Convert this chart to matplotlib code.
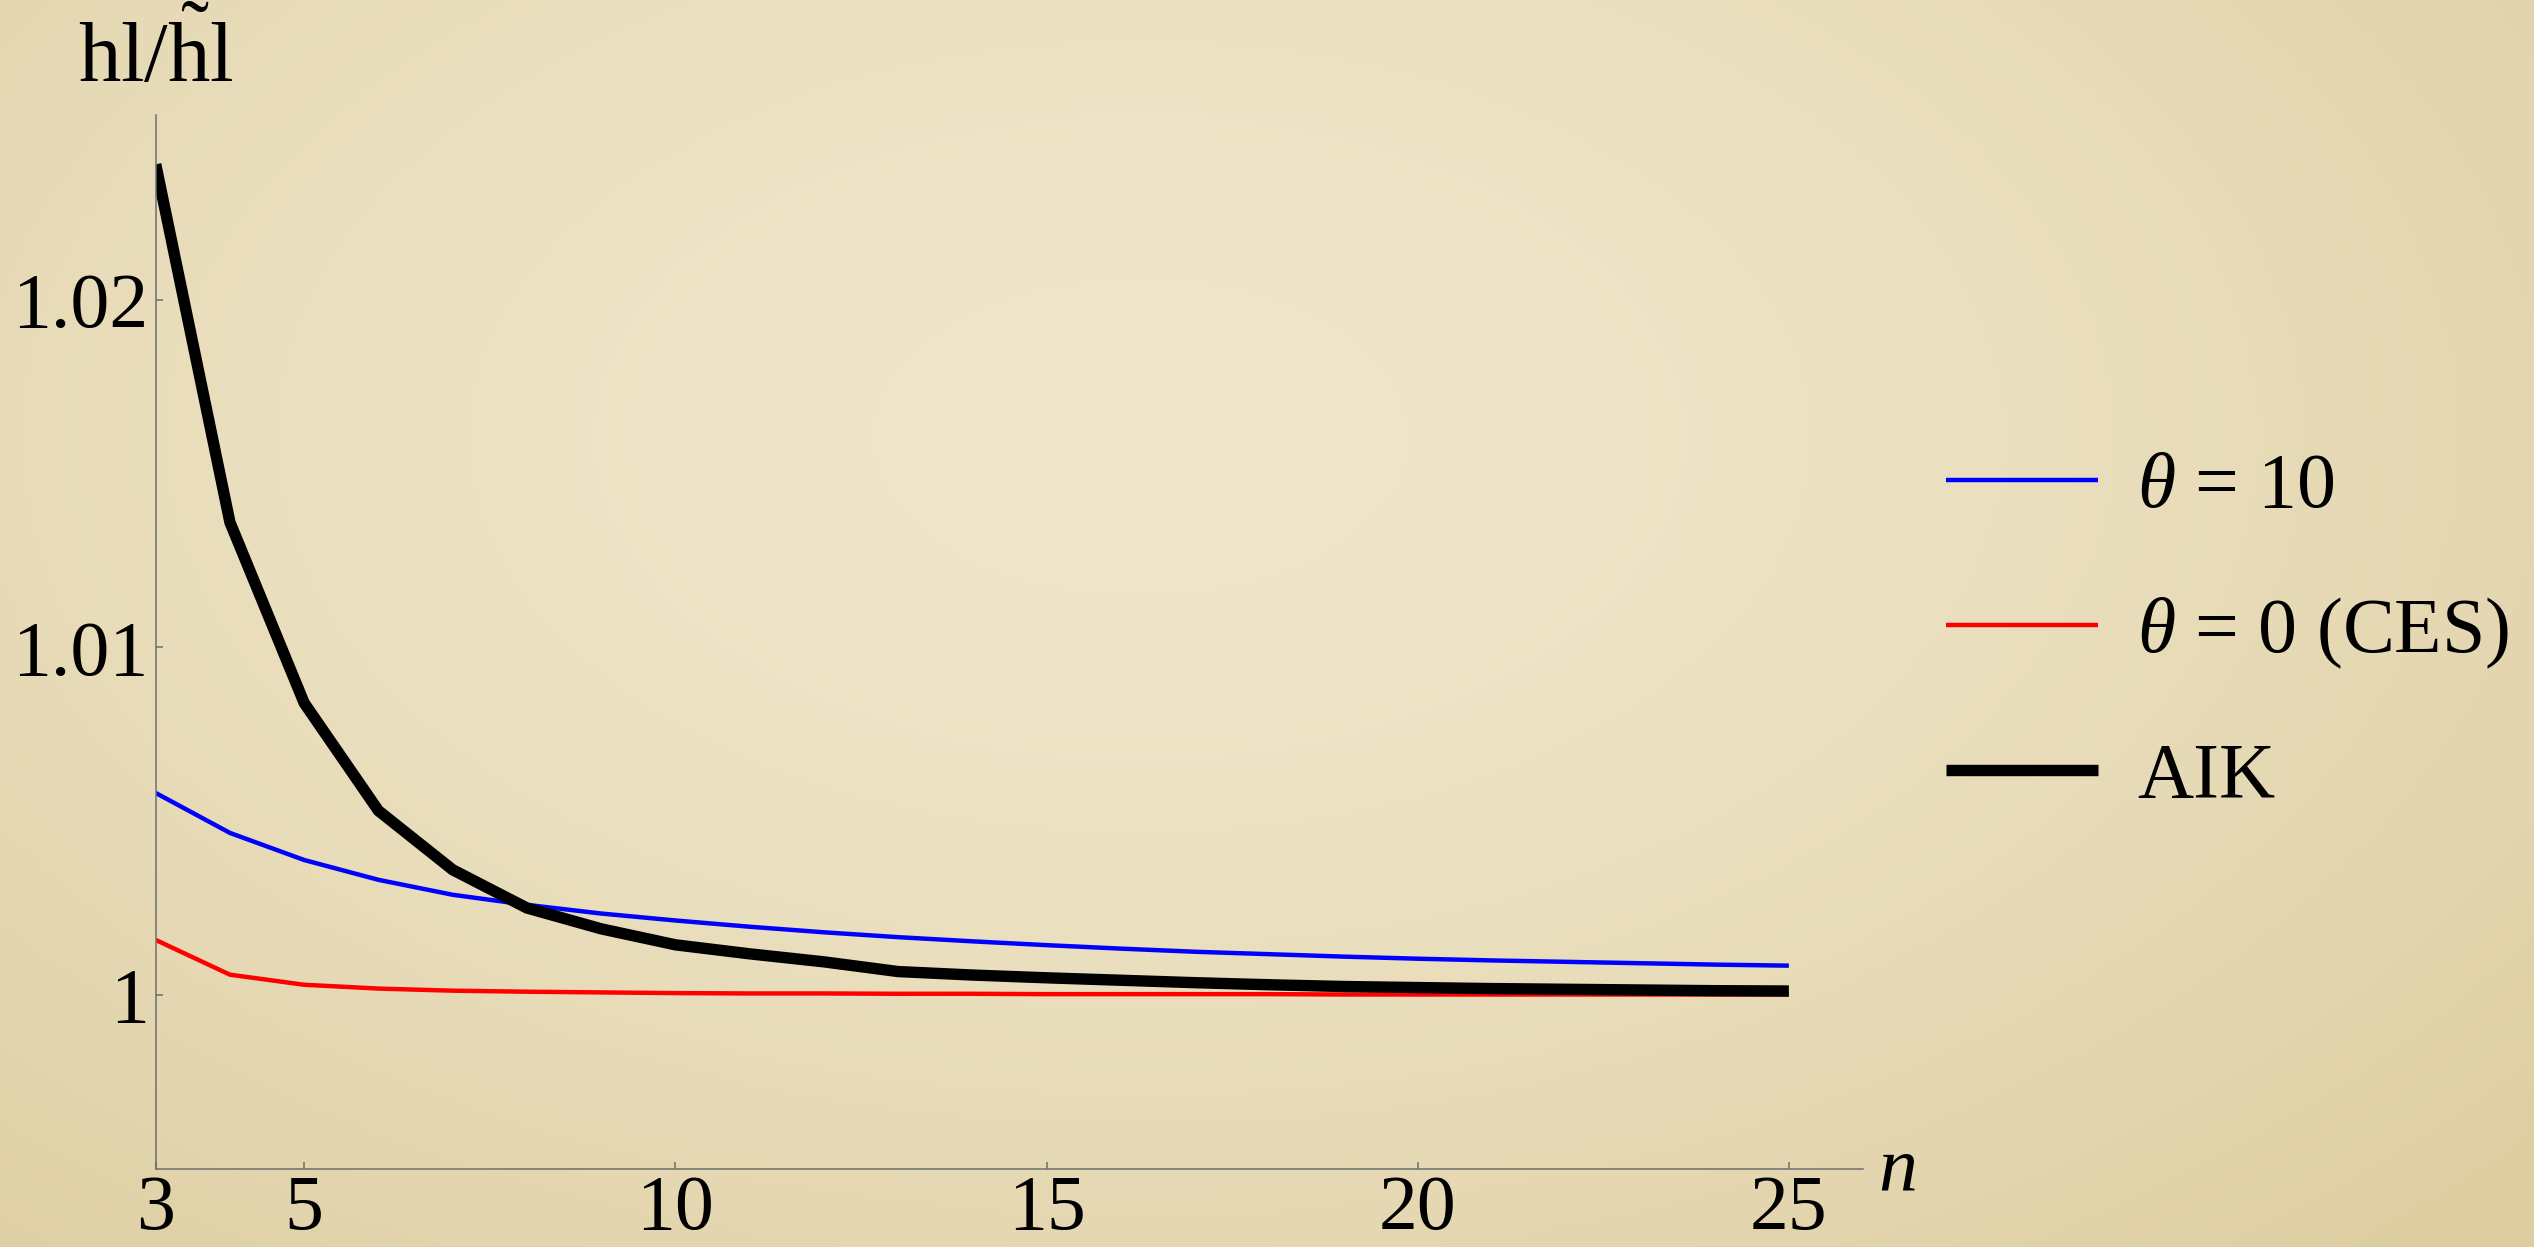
import numpy as np
import matplotlib
matplotlib.use("Agg")
import matplotlib.pyplot as plt

plt.rcParams['font.family'] = ['Liberation Serif', 'DejaVu Serif']
plt.rcParams['mathtext.fontset'] = 'custom'
plt.rcParams['mathtext.rm'] = 'Liberation Serif'
plt.rcParams['mathtext.it'] = 'Liberation Serif:italic'

# data
n = list(range(3, 26))
theta10 = [1.00581, 1.00466, 1.00388, 1.00331, 1.00288, 1.00259, 1.00234,
           1.00214, 1.00196, 1.00180, 1.00166, 1.00154, 1.00143, 1.00133,
           1.00124, 1.00117, 1.00110, 1.00104, 1.00099, 1.00095, 1.00091,
           1.00087, 1.00084]
theta0 = [1.00158, 1.00058, 1.00029, 1.00018, 1.00012, 1.00009, 1.00007,
          1.00005, 1.00004, 1.00004, 1.00003, 1.00003, 1.00002, 1.00002,
          1.00002, 1.00002, 1.00001, 1.00001, 1.00001, 1.00001, 1.00001,
          1.00001, 1.00001]
aik = [1.0239, 1.0136, 1.0084, 1.0053, 1.0036, 1.0025, 1.0019, 1.00144,
       1.00118, 1.00095, 1.00067, 1.00057, 1.00049, 1.00042, 1.00035,
       1.00029, 1.00024, 1.00021, 1.00018, 1.00016, 1.00014, 1.00012,
       1.00011]
xticks = [3, 5, 10, 15, 20, 25]
yticks = [1.0, 1.01, 1.02]
yticklabels = ['1', '1.01', '1.02']
labels = [r'$\theta$ = 10', r'$\theta$ = 0 (CES)', 'AIK']

W, H = 2534, 1247
fig = plt.figure(figsize=(W / 100, H / 100), dpi=100)

# parchment-like vignette background
bg = fig.add_axes([0, 0, 1, 1], zorder=-10)
yy, xx = np.mgrid[0:1:300j, 0:1:600j]
r = np.sqrt(((xx - 0.45) / 0.75) ** 2 + ((yy - 0.35) / 0.9) ** 2)
r = np.clip(r, 0, 1)
c_in = np.array([240, 231, 204]) / 255
c_out = np.array([221, 205, 160]) / 255
img = c_in + (c_out - c_in) * (r[..., None] ** 1.5)
bg.imshow(img, aspect='auto', extent=[0, 1, 0, 1], origin='upper')
bg.axis('off')

ax = fig.add_axes([0.06144, 0.0626, 0.6738, 0.8452])
ax.set_facecolor('none')

l1, = ax.plot(n, theta10, color='#0000ff', lw=3.2, solid_capstyle='butt')
l2, = ax.plot(n, theta0, color='#ff0000', lw=3.2, solid_capstyle='butt')
l3, = ax.plot(n, aik, color='black', lw=8.2, solid_capstyle='butt',
              solid_joinstyle='miter')

ax.set_xlim(3, 26.0)
ax.set_ylim(0.99499, 1.02532)
ax.set_xticks(xticks)
ax.set_yticks(yticks)
ax.set_yticklabels(yticklabels)

for s in ['top', 'right']:
    ax.spines[s].set_visible(False)
for s in ['left', 'bottom']:
    ax.spines[s].set_color('#6e6e6e')
    ax.spines[s].set_linewidth(1.1)

ax.tick_params(direction='in', length=5, width=1.1, color='#6e6e6e',
               labelsize=56, labelcolor='black')
ax.tick_params(axis='x', pad=4)
ax.tick_params(axis='y', pad=5)

fig.text(78 / W, 1 - 82 / H, r'$\mathrm{hl}/\tilde{\mathrm{h}}\mathrm{l}$',
         fontsize=61, ha='left', va='baseline')
fig.text(1878 / W, 1 - 1190 / H, r'$n$', fontsize=56, ha='left',
         va='baseline')

ax.legend([l1, l2, l3], labels, loc='center left',
          bbox_to_anchor=(1946 / W, 1 - 633 / H),
          bbox_transform=fig.transFigure, frameon=False, fontsize=56,
          handlelength=1.96, handletextpad=0.5, labelspacing=0.92,
          borderpad=0, borderaxespad=0)

fig.savefig('out.png', dpi=100)
